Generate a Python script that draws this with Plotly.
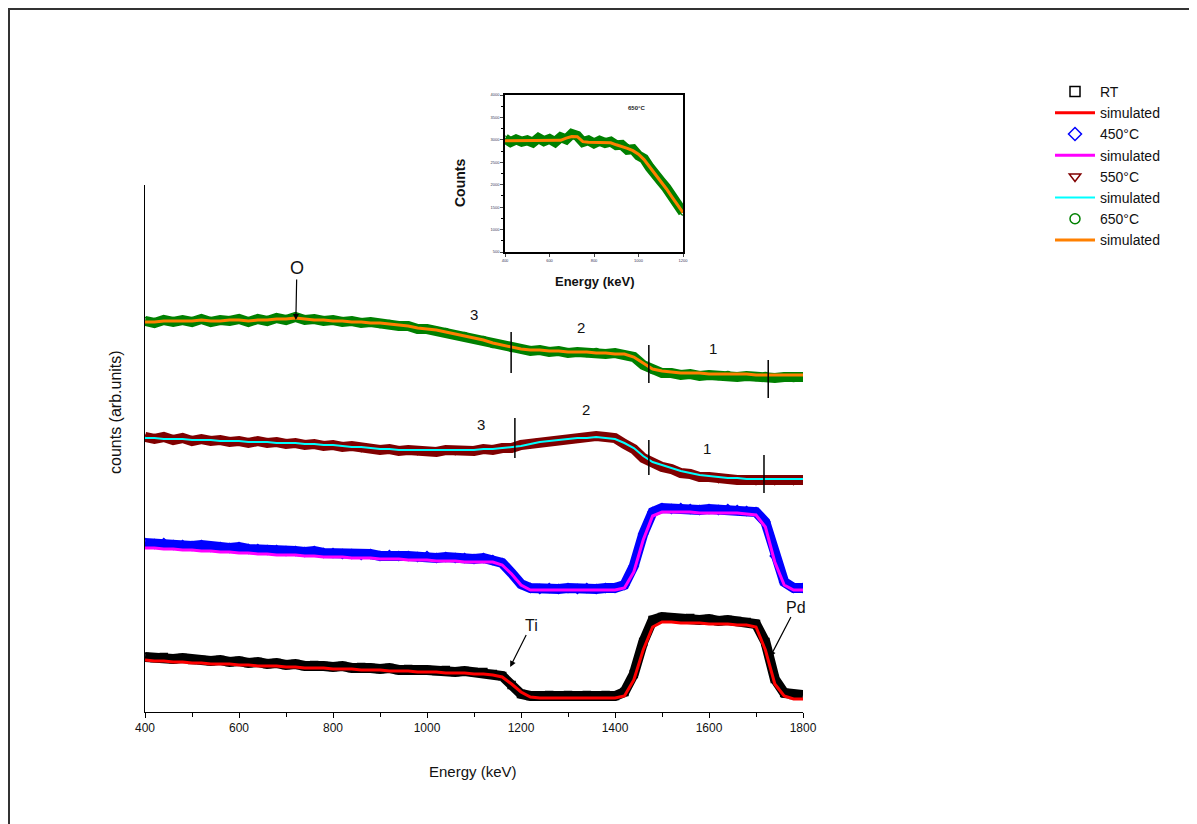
import plotly.graph_objects as go

# ---------------- data (counts in arbitrary units) ----------------
energy = list(range(400, 1801, 20))  # keV grid

rt_meas = [55, 54, 55, 53, 54, 52, 52, 51, 52, 50, 51, 49, 50, 48, 49, 47, 48, 46, 47, 46,
           45, 46, 44, 45, 44, 43, 44, 42, 43, 42, 42, 41, 42, 40, 41, 40, 40, 38, 36, 27,
           18, 16, 16, 17, 16, 17, 16, 17, 16, 17, 16, 20, 38, 70, 92, 95, 94, 93, 94, 92,
           93, 91, 92, 91, 90, 88, 70, 33, 19, 17, 17]
rt_sim = [52, 51, 51, 50, 50, 49, 49, 48, 48, 48, 47, 47, 46, 46, 46, 45, 45, 44, 44, 44,
          43, 43, 43, 42, 42, 42, 41, 41, 41, 40, 40, 40, 39, 39, 39, 38, 38, 37, 35, 28,
          20, 15, 14, 14, 14, 14, 14, 14, 14, 14, 14, 16, 32, 62, 85, 90, 90, 89, 89, 89,
          88, 88, 88, 87, 87, 85, 62, 28, 16, 13, 13]

t450_meas = [169, 168, 169, 167, 167, 166, 167, 165, 165, 164, 165, 163, 163, 162, 162, 161, 161, 160, 161, 159,
             159, 158, 158, 157, 158, 156, 157, 156, 156, 155, 156, 154, 155, 154, 154, 153, 154, 152, 149, 139,
             128, 124, 123, 124, 123, 124, 123, 124, 123, 124, 124, 127, 146, 178, 200, 204, 203, 204, 203, 202,
             203, 202, 203, 202, 201, 200, 190, 156, 130, 124, 124]
t450_sim = [164, 164, 163, 163, 162, 162, 161, 161, 160, 160, 159, 159, 158, 158, 157, 157, 157, 156, 156, 155,
            155, 155, 154, 154, 154, 153, 153, 153, 152, 152, 152, 151, 151, 151, 150, 150, 150, 150, 147, 138,
            127, 122, 122, 122, 122, 122, 122, 122, 122, 122, 122, 124, 140, 172, 196, 200, 200, 200, 200, 199,
            199, 199, 199, 199, 198, 197, 185, 150, 127, 122, 122]

t550_meas = [275, 273, 275, 272, 274, 271, 273, 271, 272, 270, 271, 269, 271, 269, 270, 268, 269, 267, 268, 266,
             267, 265, 266, 264, 264, 262, 263, 261, 262, 261, 262, 260, 262, 261, 262, 261, 263, 262, 264, 264,
             267, 268, 271, 271, 273, 274, 274, 276, 276, 275, 274, 268, 263, 254, 249, 245, 243, 239, 238, 235,
             235, 233, 233, 232, 232, 231, 232, 231, 232, 231, 232]
t550_sim = [274, 274, 273, 273, 273, 272, 272, 272, 271, 271, 271, 270, 270, 270, 269, 269, 269, 268, 268, 267,
            267, 266, 265, 265, 264, 263, 263, 262, 262, 262, 262, 262, 262, 262, 262, 262, 263, 263, 264, 265,
            266, 268, 270, 271, 272, 273, 274, 274, 275, 274, 273, 269, 264, 256, 250, 247, 244, 241, 239, 237,
            236, 235, 234, 234, 233, 233, 233, 233, 233, 233, 233]

t650_meas = [391, 389, 392, 390, 392, 390, 393, 390, 392, 391, 393, 390, 393, 391, 394, 392, 395, 392, 393, 391,
             392, 390, 391, 389, 390, 388, 388, 386, 386, 383, 383, 381, 380, 377, 376, 373, 372, 368, 367, 364,
             363, 361, 362, 360, 361, 359, 360, 359, 360, 358, 359, 357, 355, 347, 342, 339, 339, 337, 338, 336,
             337, 336, 337, 335, 336, 335, 336, 334, 335, 334, 335]
t650_sim = [390, 390, 391, 391, 391, 391, 392, 391, 391, 392, 392, 391, 392, 392, 393, 393, 394, 393, 392, 392,
            391, 391, 390, 390, 389, 389, 388, 387, 386, 384, 383, 382, 380, 378, 376, 374, 372, 369, 367, 365,
            363, 362, 362, 361, 361, 360, 360, 360, 359, 359, 358, 358, 355, 349, 343, 341, 340, 339, 339, 339,
            338, 338, 338, 338, 338, 337, 337, 337, 337, 337, 337]

# inset (650 °C)
inset_energy = list(range(400, 1201, 25))
inset_meas = [3030, 2950, 3010, 2960, 2990, 2940, 3040, 2970, 3020, 2950, 3060, 3010, 3130, 3090, 2950, 2990,
              2920, 2980, 2930, 2960, 2880, 2890, 2780, 2790, 2650, 2580, 2390, 2270, 2080, 1930, 1750, 1580, 1380]
inset_sim = [2980, 2980, 2980, 2980, 2980, 2980, 2980, 2980, 2985, 2985, 2990, 3040, 3075, 3070, 2960, 2945,
             2945, 2945, 2945, 2935, 2890, 2855, 2810, 2760, 2680, 2560, 2400, 2240, 2070, 1910, 1730, 1560, 1380]

main_ticks = [400, 600, 800, 1000, 1200, 1400, 1600, 1800]
inset_xticks = [400, 600, 800, 1000, 1200]
inset_yticks = [500, 1000, 1500, 2000, 2500, 3000, 3500, 4000]

# layer boundary markers (energy, low, high)
green_marks = [(1179, 339, 380), (1472, 329, 367), (1726, 314, 352)]
brown_marks = [(1187, 254, 294), (1472, 237, 272), (1717, 219, 257)]
green_labels = [("3", 1100, 398), ("2", 1328, 385), ("1", 1609, 364)]
brown_labels = [("3", 1115, 288), ("2", 1338, 303), ("1", 1596, 264)]

FONT = "Liberation Sans, Arial, sans-serif"

# page geometry (browser body has an 8px margin)
OFF = 8
PX0, PX1 = 145, 803      # plot area, page px
PY0, PY1 = 95, 712
PW, PH = PX1 - PX0, PY1 - PY0


def px(x):
    return (x - PX0) / PW


def py(y):
    return (PY1 - y) / PH


series = [
    ("RT", rt_meas, rt_sim, "#000000", "square-open", "#ff0000"),
    ("450°C", t450_meas, t450_sim, "#0000ff", "diamond-open", "#ff00ff"),
    ("550°C", t550_meas, t550_sim, "#800000", "triangle-down-open", "#00ffff"),
    ("650°C", t650_meas, t650_sim, "#008000", "circle-open", "#ff8000"),
]

fig = go.Figure()
for name, meas, sim, col, sym, scol in series:
    fig.add_trace(go.Scatter(x=energy, y=meas, mode="lines", line=dict(color=col, width=10),
                             showlegend=False, hoverinfo="skip", legendgroup=name))
    fig.add_trace(go.Scatter(x=energy, y=meas, mode="markers", name=name, legendgroup=name,
                             showlegend=False,
                             marker=dict(symbol=sym, size=7, color=col, line=dict(width=1.5, color=col))))
    # legend entry with a larger symbol
    fig.add_trace(go.Scatter(x=[None], y=[None], mode="markers", name=name, legendgroup=name,
                             marker=dict(symbol=sym, size=10, color=col, line=dict(width=1.5, color=col))))
    fig.add_trace(go.Scatter(x=energy, y=sim, mode="lines", name="simulated",
                             line=dict(color=scol, width=3 if scol != "#00ffff" else 2)))

# inset traces
fig.add_trace(go.Scatter(x=inset_energy, y=inset_meas, mode="lines", xaxis="x2", yaxis="y2",
                         line=dict(color="#008000", width=10), showlegend=False, hoverinfo="skip"))
fig.add_trace(go.Scatter(x=inset_energy, y=inset_meas, mode="markers", xaxis="x2", yaxis="y2",
                         marker=dict(symbol="circle-open", size=5, color="#008000", line=dict(width=1.2)),
                         showlegend=False))
fig.add_trace(go.Scatter(x=inset_energy, y=inset_sim, mode="lines", xaxis="x2", yaxis="y2",
                         line=dict(color="#ff8000", width=3), showlegend=False))

shapes = []
for e, lo, hi in green_marks + brown_marks:
    shapes.append(dict(type="line", xref="x", yref="y", x0=e, x1=e, y0=lo, y1=hi,
                       line=dict(color="black", width=1.5)))
# outer frame
shapes.append(dict(type="rect", xref="paper", yref="paper",
                   x0=px(9), x1=px(1215), y0=py(840), y1=py(9),
                   line=dict(color="#333333", width=2)))


def label(x, y, text, size, bold=False, angle=0):
    return dict(x=px(x), y=py(y), xref="paper", yref="paper", xanchor="center", yanchor="middle",
                text=f"<b>{text}</b>" if bold else text, showarrow=False, textangle=angle,
                font=dict(size=size, color="#111", family=FONT))


annotations = []
for txt, e, h in green_labels + brown_labels:
    annotations.append(dict(x=e, y=h, xref="x", yref="y", text=txt, showarrow=False,
                            xanchor="center", yanchor="middle",
                            font=dict(size=15, color="#111", family=FONT)))
annotations += [
    dict(x=721, y=392, xref="x", yref="y", text="O", showarrow=True, ax=1, ay=-52,
         arrowhead=2, arrowsize=1, arrowwidth=1.2, arrowcolor="black",
         font=dict(size=18, color="#111", family=FONT)),
    dict(x=1177, y=45, xref="x", yref="y", text="Ti", showarrow=True, ax=21, ay=-42,
         arrowhead=2, arrowsize=1, arrowwidth=1.2, arrowcolor="black",
         font=dict(size=16, color="#111", family=FONT)),
    dict(x=1730, y=55, xref="x", yref="y", text="Pd", showarrow=True, ax=26, ay=-50,
         arrowhead=2, arrowsize=1, arrowwidth=1.2, arrowcolor="black",
         font=dict(size=16, color="#111", family=FONT)),
    label(473, 771, "Energy (keV)", 15),
    label(115, 412, "counts (arb.units)", 16, angle=-90),
    dict(x=0.74, y=0.917, xref="x2 domain", yref="y2 domain", text="<b>650°C</b>",
         xanchor="center", yanchor="middle",
         showarrow=False, font=dict(size=6, color="#222", family=FONT)),
    label(594, 281, "Energy (keV)", 13, bold=True),
    label(460, 183, "Counts", 14, bold=True, angle=-90),
]

fig.update_layout(
    width=1197 - OFF, height=824 - OFF,
    margin=dict(l=PX0 - OFF, r=1197 - PX1, t=PY0 - OFF, b=824 - PY1),
    paper_bgcolor="white", plot_bgcolor="white",
    font=dict(family=FONT, color="#111"),
    showlegend=True,
    legend=dict(x=px(1050), y=py(76), xanchor="left", yanchor="top", bgcolor="rgba(0,0,0,0)",
                font=dict(size=14, family=FONT), tracegroupgap=0, itemwidth=40),
    xaxis=dict(domain=[0, 1], range=[400, 1800], showgrid=False, zeroline=False,
               showline=True, linecolor="black", linewidth=1, ticks="outside", ticklen=5,
               tickcolor="black", tickvals=main_ticks, tickfont=dict(size=12, family=FONT),
               minor=dict(dtick=100, ticks="outside", ticklen=4, tickcolor="black"),
               anchor="y"),
    yaxis=dict(domain=[0, py(185)], range=[0, 527], showgrid=False, zeroline=False,
               showline=True, linecolor="black", linewidth=1, showticklabels=False, ticks="",
               anchor="x"),
    xaxis2=dict(domain=[px(505), px(683)], range=[400, 1200], anchor="y2",
                showgrid=False, zeroline=False, showline=True, mirror=True, linecolor="black",
                linewidth=1.5, ticks="outside", ticklen=3, tickvals=inset_xticks,
                tickfont=dict(size=4, color="#335")),
    yaxis2=dict(domain=[py(252), 1.0], range=[500, 4000], anchor="x2",
                showgrid=False, zeroline=False, showline=True, mirror=True, linecolor="black",
                linewidth=1.5, ticks="outside", ticklen=3, tickvals=inset_yticks,
                tickfont=dict(size=4, color="#335"),
                minor=dict(dtick=250, ticks="outside", ticklen=2, tickcolor="black")),
    shapes=shapes,
    annotations=annotations,
)

fig.write_html("out.html")
